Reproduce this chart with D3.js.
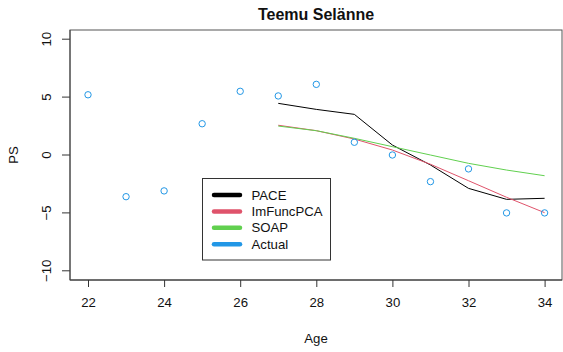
<!DOCTYPE html>
<html>
<head>
<meta charset="utf-8">
<script src="https://cdn.jsdelivr.net/npm/d3@7"></script>
<style>
  body { margin: 0; background: #fff; }
  svg { display: block; font-family: "Liberation Sans", Arial, Helvetica, sans-serif; }
</style>
</head>
<body>
<svg id="chart" width="563" height="352"></svg>
<script>
// Player season data: actual PS by age and three fitted trajectories
const title = "Teemu Selänne";
const ages = [22, 23, 24, 25, 26, 27, 28, 29, 30, 31, 32, 33, 34];
const actual = [5.2, -3.6, -3.1, 2.7, 5.5, 5.1, 6.1, 1.1, 0.0, -2.3, -1.2, -5.0, -5.0];
const fitAges = [27, 28, 29, 30, 31, 32, 33, 34];
const pace = [4.46, 3.94, 3.51, 0.86, -0.86, -2.88, -3.83, -3.74];
const imFuncPCA = [2.57, 2.10, 1.38, 0.43, -0.80, -2.22, -3.65, -4.98];
const soap = [2.50, 2.10, 1.44, 0.72, 0.0, -0.72, -1.30, -1.79];
const xTicks = [22, 24, 26, 28, 30, 32, 34];
const yTicks = [-10, -5, 0, 5, 10];
const legendNames = ["PACE", "ImFuncPCA", "SOAP", "Actual"];
const colors = ["#000000", "#DF536B", "#61D04F", "#2297E6"];

const svg = d3.select("#chart");
const box = { left: 70, top: 30, right: 562, bottom: 280 };

const x = d3.scaleLinear().domain([22, 34]).range([88, 544.6]);
const y = d3.scaleLinear().domain([-10, 10]).range([270.8, 39.2]);

// plot frame
svg.append("rect")
  .attr("x", box.left).attr("y", box.top)
  .attr("width", box.right - box.left).attr("height", box.bottom - box.top)
  .attr("fill", "none").attr("stroke", "#555").attr("stroke-width", 1);

// axes
const xAxis = d3.axisBottom(x).tickValues(xTicks).tickSize(7).tickPadding(11).tickFormat(d3.format("d"));
const gx = svg.append("g").attr("transform", `translate(0,${box.bottom})`).call(xAxis);
gx.select(".domain").remove();
gx.selectAll("line").attr("stroke", "#333");
gx.selectAll("text").attr("font-size", 13.2).attr("fill", "#111").attr("font-family", null);

const yAxis = d3.axisLeft(y).tickValues(yTicks).tickSize(8).tickFormat(d3.format("d"));
const gy = svg.append("g").attr("transform", `translate(${box.left},0)`).call(yAxis);
gy.select(".domain").remove();
gy.selectAll("line").attr("stroke", "#333");
gy.selectAll("text")
  .attr("font-size", 13.2).attr("fill", "#111").attr("font-family", null)
  .attr("x", 0).attr("dy", null)
  .attr("text-anchor", "middle")
  .attr("transform", d => `translate(-23.5,${y(d)}) rotate(-90)`)
  .attr("y", 0)
  .attr("dominant-baseline", "central");
gy.selectAll(".tick").attr("transform", null);
gy.selectAll(".tick line").attr("transform", d => `translate(0,${y(d)})`);

// bottom and left axis lines drawn darker over the frame
svg.append("line").attr("x1", box.left).attr("x2", box.right).attr("y1", box.bottom).attr("y2", box.bottom).attr("stroke", "#333");
svg.append("line").attr("x1", box.left).attr("x2", box.left).attr("y1", box.top).attr("y2", box.bottom).attr("stroke", "#444");

// titles
svg.append("text").attr("x", 316).attr("y", 19.5).attr("text-anchor", "middle")
  .attr("font-size", 16).attr("font-weight", "bold").attr("fill", "#111").text(title);
svg.append("text").attr("x", 316).attr("y", 343).attr("text-anchor", "middle")
  .attr("font-size", 13.2).attr("fill", "#111").text("Age");
svg.append("text").attr("transform", "translate(18,155) rotate(-90)").attr("text-anchor", "middle")
  .attr("font-size", 13.2).attr("fill", "#111").text("PS");

// fitted curves
const line = d3.line().x(d => x(d[0])).y(d => y(d[1]));
[pace, imFuncPCA, soap].forEach((vals, i) => {
  svg.append("path")
    .datum(fitAges.map((a, j) => [a, vals[j]]))
    .attr("d", line)
    .attr("fill", "none")
    .attr("stroke", colors[i])
    .attr("stroke-width", 1)
    .attr("stroke-linejoin", "round");
});

// actual values
svg.append("g").selectAll("circle")
  .data(ages.map((a, i) => [a, actual[i]]))
  .join("circle")
  .attr("cx", d => x(d[0])).attr("cy", d => y(d[1]))
  .attr("r", 3.2)
  .attr("fill", "none").attr("stroke", colors[3]).attr("stroke-width", 1);

// legend
const lg = svg.append("g");
lg.append("rect").attr("x", 202.5).attr("y", 178.5).attr("width", 128).attr("height", 81.5)
  .attr("fill", "#fff").attr("stroke", "#333").attr("stroke-width", 1);
legendNames.forEach((name, i) => {
  const cy = 195 + i * 16.4;
  lg.append("line").attr("x1", 214).attr("x2", 240).attr("y1", cy).attr("y2", cy)
    .attr("stroke", colors[i]).attr("stroke-width", 4.5).attr("stroke-linecap", "round");
  lg.append("text").attr("x", 251.5).attr("y", cy).attr("dy", "0.35em")
    .attr("font-size", 13.2).attr("fill", "#111").text(name);
});
</script>
</body>
</html>
